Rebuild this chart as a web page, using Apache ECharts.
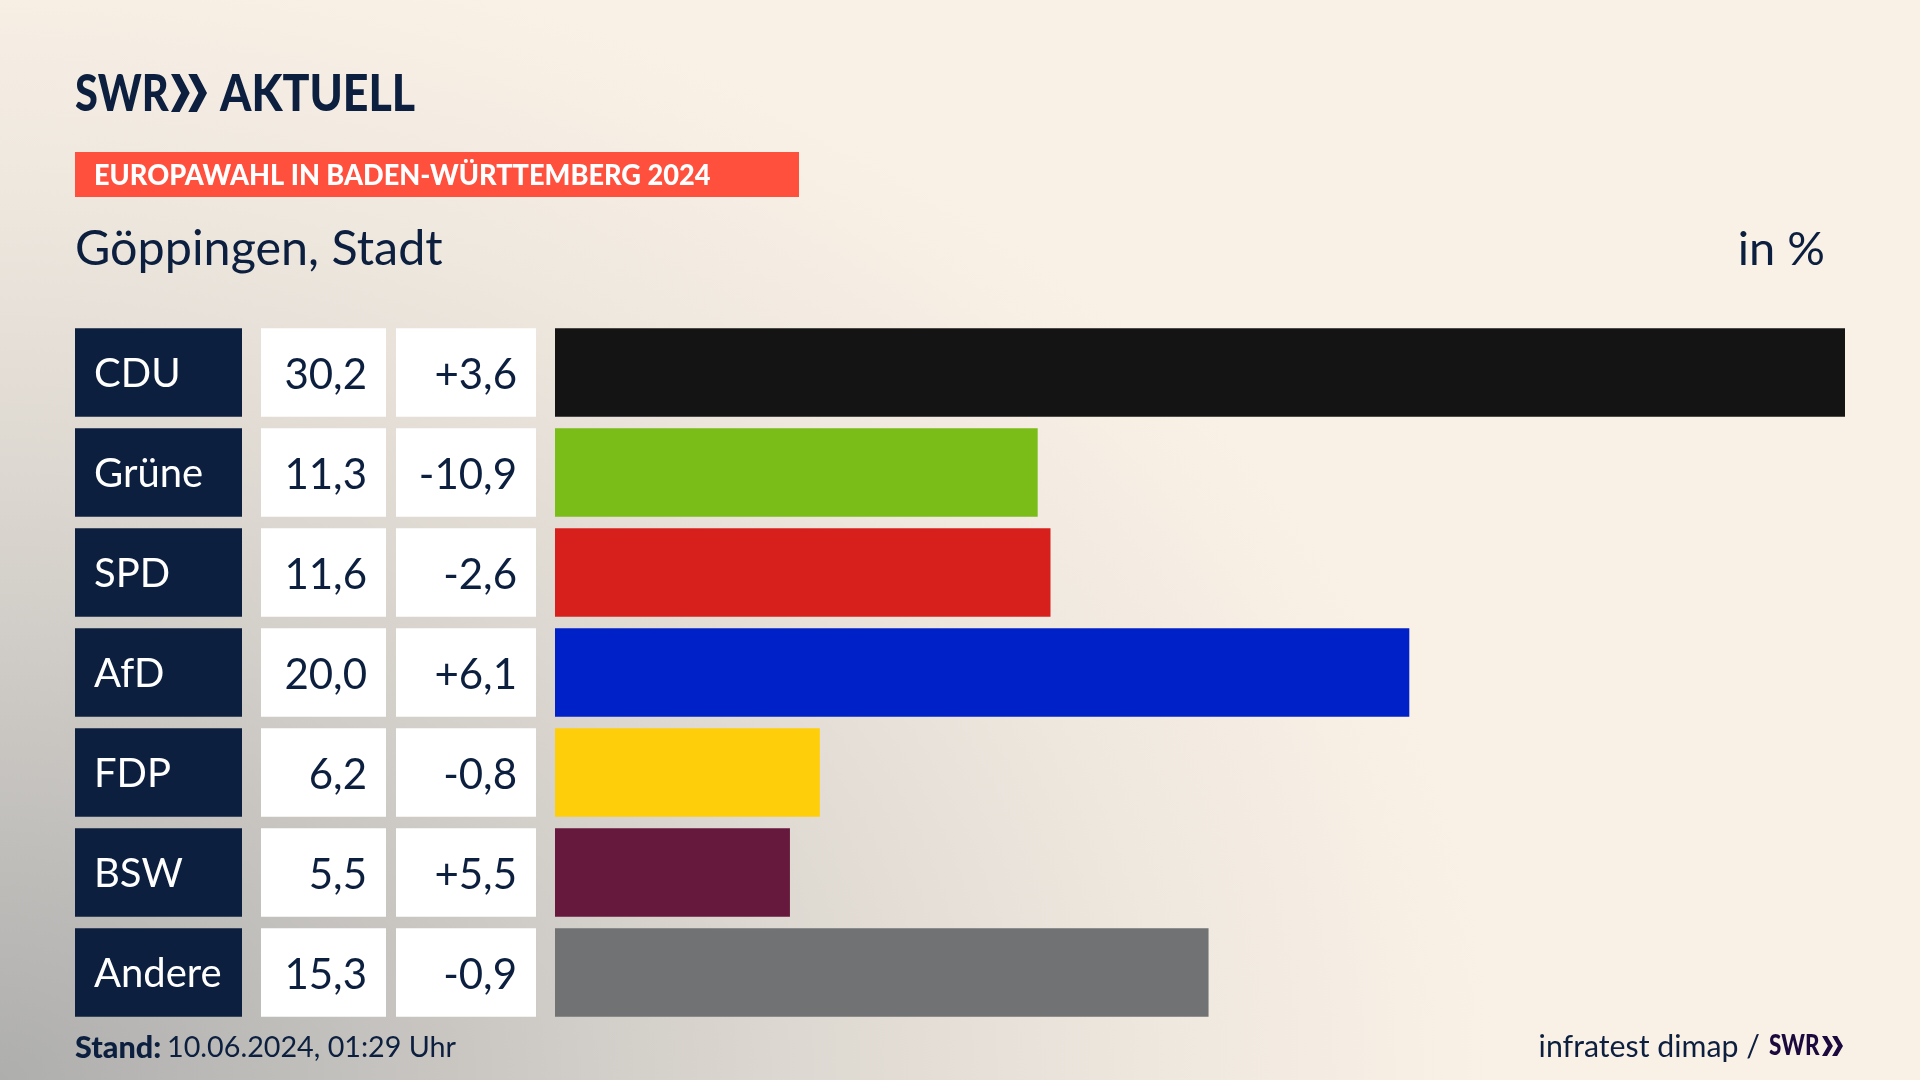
<!DOCTYPE html>
<html><head><meta charset="utf-8">
<script src="https://cdn.jsdelivr.net/npm/echarts@6/dist/echarts.min.js"></script>
<style>
html,body{margin:0;padding:0;width:1920px;height:1080px;overflow:hidden;
background:radial-gradient(ellipse 1500px 1150px at 0 1080px,#aeaead 0%,#c9c6c2 30%,#dcd7d0 52%,#efe8df 78%,#faf1e6 100%);background-color:#faf1e6}
#c{width:1920px;height:1080px}
</style></head><body><div id="c"></div>
<script>
const parties=['CDU','Grüne','SPD','AfD','FDP','BSW','Andere'];
const shares=[30.2,11.3,11.6,20.0,6.2,5.5,15.3];
const changes=['+3,6','-10,9','-2,6','+6,1','-0,8','+5,5','-0,9'];
const barColors=['#141414','#7abd19','#d7201c','#0020c8','#ffce0a','#66193c','#707274'];
const navy='#0c1f3f', font='Lato';
const shareLabels=shares.map(v=>v.toFixed(1).replace('.',','));
const chevrons=(x,y,h,w,c)=>{const wc=w*0.52,t=w*0.24,out=[];
 for(const dx of [0,w-wc]) out.push({type:'polygon',z:5,style:{fill:c},shape:{points:[[x+dx,y],[x+dx+t,y],[x+dx+wc,y+h/2],[x+dx+t,y+h],[x+dx,y+h],[x+dx+wc-t,y+h/2]]}});
 return out;};
const txt=(x,y,text,size,weight,fill,align,sx)=>({type:'text',x,y,z:5,scaleX:sx||1,style:{text,font:`${weight} ${size}px ${font}`,fill,textAlign:align||'left',textVerticalAlign:'middle'}});
const cellAxis=(data,margin,width,align,color,bg,pad,size)=>({type:'category',inverse:true,data,position:'left',
 axisLine:{show:false},axisTick:{show:false},
 axisLabel:{interval:0,margin,align,verticalAlign:'middle',backgroundColor:bg,
  width,height:88.5,padding:pad,overflow:'none',hideOverlap:false,
  formatter:v=>`{t|${v}}`,
  rich:{t:{fontFamily:font,fontSize:size,color,padding:[26,0,0,0]}}}});
const chart=echarts.init(document.getElementById('c'),null,{renderer:'canvas'});
chart.setOption({
 animation:false,backgroundColor:'transparent',
 grid:{left:555,top:322.5,width:1290,height:700,containLabel:false},
 xAxis:{type:'value',min:0,max:30.2,show:false},
 yAxis:[
  cellAxis(parties,480,148,'left','#fff',navy,[0,0,0,19],40),
  cellAxis(shareLabels,169,106,'right',navy,'#fff',[0,19,0,0],42),
  cellAxis(changes,19,121,'right',navy,'#fff',[0,19,0,0],42)
 ],
 series:[{type:'bar',yAxisIndex:0,barWidth:88.5,data:shares.map((v,i)=>({value:v,itemStyle:{color:barColors[i]}}))}],
 graphic:[
  txt(75,94,'SWR',52,900,navy,'left',0.8),
  ...chevrons(171,74,38,36,navy),
  txt(220,94,'AKTUELL',52,900,navy,'left',0.86),
  {type:'rect',shape:{x:75,y:152,width:724,height:45},style:{fill:'#ff4f3d'},z:4},
  txt(94,176,'EUROPAWAHL IN BADEN-WÜRTTEMBERG 2024',28,900,'#fff','left',0.97),
  txt(75,250,'Göppingen, Stadt',48,400,navy,'left',1.01),
  txt(1825,250,'in %',47,400,navy,'right'),
  txt(75,1048,'Stand:',30,900,navy,'left',1.02),
  txt(167,1048,'10.06.2024, 01:29 Uhr',29,400,navy,'left',0.99),
  txt(1760,1047,'infratest dimap /',30,400,navy,'right',1.01),
  txt(1769,1046,'SWR',28,900,'#1c0a3e','left',0.8),
  ...chevrons(1822,1036,20,21,'#1c0a3e')
 ]
});
</script></body></html>
